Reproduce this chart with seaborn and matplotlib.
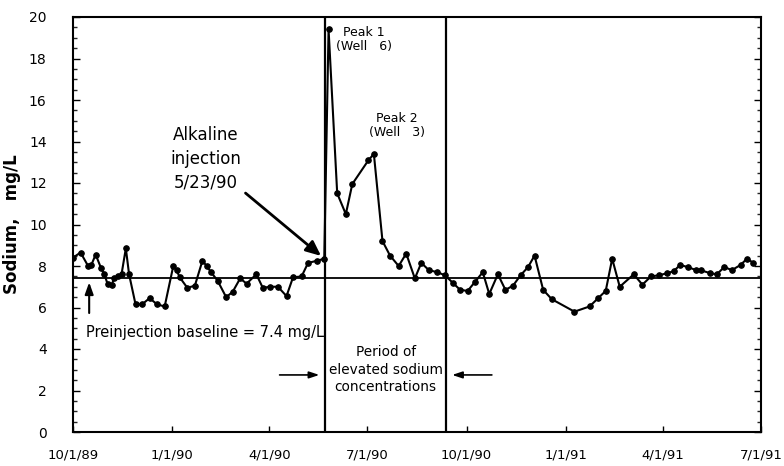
import pandas as pd
import numpy as np
import matplotlib
matplotlib.use("Agg")
import matplotlib.pyplot as plt
import matplotlib.dates as mdates
from matplotlib.ticker import FixedLocator, MultipleLocator
import seaborn as sns

# sampling dates and sodium values
dates = [
    "1989-10-01", "1989-10-08", "1989-10-15", "1989-10-18", "1989-10-22", "1989-10-27", "1989-10-30",
    "1989-11-02", "1989-11-06", "1989-11-08", "1989-11-12", "1989-11-15", "1989-11-19", "1989-11-22", "1989-11-28",
    "1989-12-04", "1989-12-11", "1989-12-18", "1989-12-25",
    "1990-01-02", "1990-01-05", "1990-01-08", "1990-01-15", "1990-01-22", "1990-01-29",
    "1990-02-02", "1990-02-06", "1990-02-12", "1990-02-20", "1990-02-26",
    "1990-03-05", "1990-03-11", "1990-03-20", "1990-03-26",
    "1990-04-02", "1990-04-09", "1990-04-17", "1990-04-23",
    "1990-05-01", "1990-05-07", "1990-05-15", "1990-05-22", "1990-05-26",
    "1990-06-03", "1990-06-11", "1990-06-17",
    "1990-07-02", "1990-07-07", "1990-07-15", "1990-07-22", "1990-07-30",
    "1990-08-06", "1990-08-14", "1990-08-20", "1990-08-27",
    "1990-09-04", "1990-09-11", "1990-09-18", "1990-09-25",
    "1990-10-02", "1990-10-09", "1990-10-16", "1990-10-22", "1990-10-30",
    "1990-11-06", "1990-11-13", "1990-11-20", "1990-11-27",
    "1990-12-03", "1990-12-11", "1990-12-19",
    "1991-01-09", "1991-01-23", "1991-01-31",
    "1991-02-07", "1991-02-13", "1991-02-20",
    "1991-03-05", "1991-03-13", "1991-03-21", "1991-03-28",
    "1991-04-05", "1991-04-11", "1991-04-17", "1991-04-24",
    "1991-05-02", "1991-05-06", "1991-05-15", "1991-05-21", "1991-05-28",
    "1991-06-04", "1991-06-12", "1991-06-18", "1991-06-24",
]
sodium = [
    8.4, 8.65, 8.0, 8.05, 8.55, 7.9, 7.6,
    7.15, 7.1, 7.4, 7.5, 7.6, 8.85, 7.6, 6.15,
    6.15, 6.45, 6.15, 6.05,
    8.0, 7.8, 7.45, 6.95, 7.05, 8.25,
    8.0, 7.7, 7.3, 6.5, 6.75,
    7.4, 7.15, 7.6, 6.95,
    7.0, 7.0, 6.55, 7.45,
    7.5, 8.15, 8.25, 8.35, 19.4,
    11.5, 10.5, 11.95,
    13.1, 13.4, 9.2, 8.5, 8.0,
    8.6, 7.4, 8.15, 7.8,
    7.7, 7.55, 7.2, 6.85,
    6.8, 7.25, 7.7, 6.65, 7.6,
    6.85, 7.05, 7.55, 7.95,
    8.5, 6.85, 6.4,
    5.8, 6.05, 6.45,
    6.8, 8.35, 7.0,
    7.6, 7.1, 7.5, 7.55,
    7.65, 7.75, 8.05, 7.95,
    7.8, 7.8, 7.65, 7.6, 7.95,
    7.8, 8.05, 8.35, 8.15,
]

tick_dates = ["1989-10-01", "1990-01-01", "1990-04-01", "1990-07-01",
              "1990-10-01", "1991-01-01", "1991-04-01", "1991-07-01"]
tick_labels = ["10/1/89", "1/1/90", "4/1/90", "7/1/90",
               "10/1/90", "1/1/91", "4/1/91", "7/1/91"]

baseline = 7.4
injection_date = "1990-05-23"
period_end_date = "1990-09-12"

df = pd.DataFrame({"date": pd.to_datetime(dates), "sodium": sodium})

sns.set_style("ticks")
plt.rcParams["font.family"] = ["DejaVu Sans"]
plt.rcParams["text.color"] = "black"
plt.rcParams["axes.labelcolor"] = "black"


def d(s):
    return mdates.date2num(pd.Timestamp(s))


fig = plt.figure(figsize=(7.84, 4.66), dpi=100)
ax = fig.add_axes([73 / 784, 34 / 466, 688 / 784, 415 / 466])

sns.lineplot(data=df, x="date", y="sodium", ax=ax, color="black", linewidth=1.5,
             marker="o", markersize=4, markeredgecolor="black", markerfacecolor="black")

ax.axhline(baseline, color="black", linewidth=1.3)
inj = d(injection_date)
pend = d(period_end_date)
ax.axvline(inj, color="black", linewidth=1.6)
ax.axvline(pend, color="black", linewidth=1.6)

ax.set_xlim(pd.Timestamp("1989-10-01"), pd.Timestamp("1991-07-01"))
ax.set_ylim(0, 20)

ax.xaxis.set_major_locator(FixedLocator(mdates.date2num(pd.to_datetime(tick_dates))))
ax.set_xticklabels(tick_labels, fontsize=9.5)
ax.yaxis.set_major_locator(MultipleLocator(2))
ax.yaxis.set_minor_locator(MultipleLocator(0.5))
ax.tick_params(axis="x", direction="in", length=4, width=1, pad=12, colors="black")
ax.tick_params(axis="y", which="major", direction="in", length=5, width=1, pad=19,
               labelsize=10, right=True, colors="black")
ax.tick_params(axis="y", which="minor", direction="in", length=3, width=1, right=True)
for s in ax.spines.values():
    s.set_visible(True)
    s.set_color("black")
    s.set_linewidth(1.5)

ax.set_xlabel("")
ax.set_ylabel("Sodium,   mg/L", fontsize=12, fontweight="bold", labelpad=6)

# annotations
ax.text(d("1990-06-28"), 19.55, "Peak 1\n(Well   6)",
        ha="center", va="top", fontsize=9, linespacing=1.1)
ax.text(d("1990-07-28"), 15.4, "Peak 2\n(Well   3)",
        ha="center", va="top", fontsize=9, linespacing=1.1)
ax.text(d("1990-02-01"), 14.75, "Alkaline\ninjection\n5/23/90",
        ha="center", va="top", fontsize=12, linespacing=1.4)
ax.annotate("", xy=(d("1990-05-21"), 8.4), xytext=(d("1990-03-08"), 11.6),
            arrowprops=dict(arrowstyle="-|>,head_width=0.4,head_length=0.9",
                            color="black", lw=2))
ax.annotate("", xy=(d("1989-10-16"), 7.35), xytext=(d("1989-10-16"), 5.6),
            arrowprops=dict(arrowstyle="-|>,head_width=0.25,head_length=0.7",
                            color="black", lw=1.5))
ax.text(d("1989-10-13"), 4.8, "Preinjection baseline = 7.4 mg/L",
        ha="left", va="center", fontsize=10.5)
ax.text(d("1990-07-18"), 3.0, "Period of\nelevated sodium\nconcentrations",
        ha="center", va="center", fontsize=9.8, linespacing=1.3)
ax.annotate("", xy=(inj - 3, 2.75), xytext=(inj - 45, 2.75),
            arrowprops=dict(arrowstyle="-|>,head_width=0.2,head_length=0.6", color="black", lw=1.2))
ax.annotate("", xy=(pend + 3, 2.75), xytext=(pend + 45, 2.75),
            arrowprops=dict(arrowstyle="-|>,head_width=0.2,head_length=0.6", color="black", lw=1.2))

fig.savefig("out.png", dpi=100)
